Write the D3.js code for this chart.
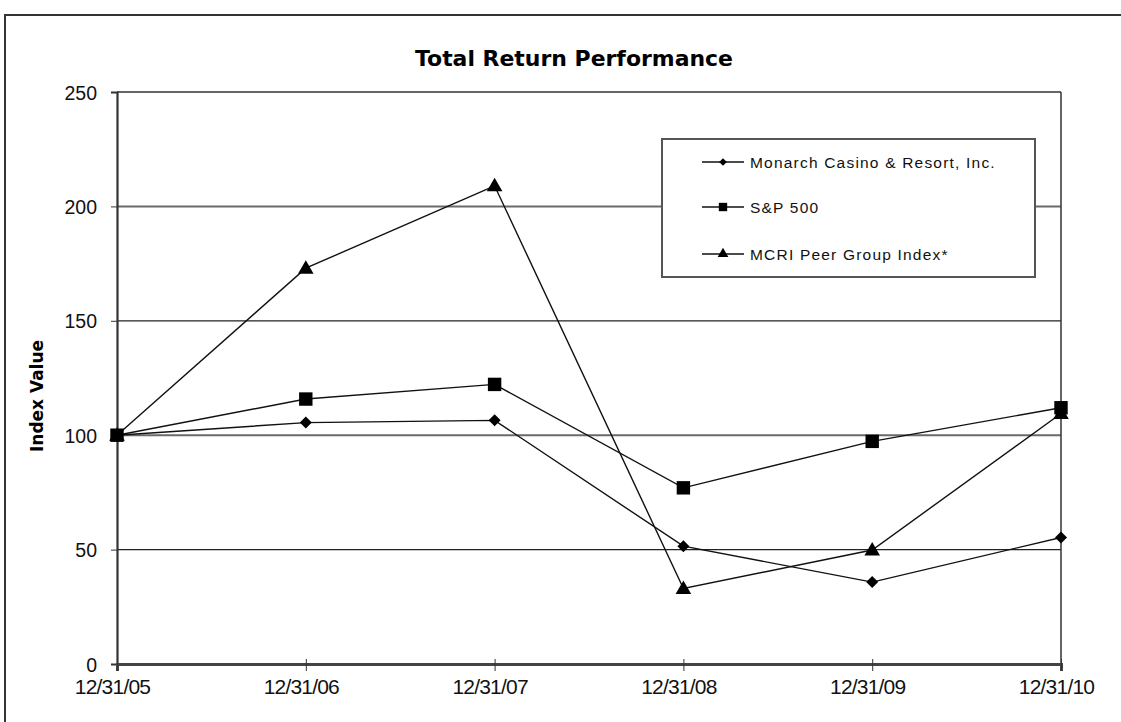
<!DOCTYPE html>
<html><head><meta charset="utf-8">
<script src="https://cdn.jsdelivr.net/npm/d3@7/dist/d3.min.js"></script>
<style>html,body{margin:0;padding:0;background:#fff;overflow:hidden}</style>
</head><body>
<svg id="c" width="1121" height="722"></svg>
<script>
const categories = ["12/31/05","12/31/06","12/31/07","12/31/08","12/31/09","12/31/10"];
const monarch = [100, 105.5, 106.5, 51.5, 35.8, 55.3];
const sp500   = [100, 115.8, 122.2, 77.0, 97.3, 112.0];
const peer    = [100, 173.0, 209.0, 33.0, 49.8, 109.5];
const seriesNames = ["Monarch Casino & Resort, Inc.", "S&P 500", "MCRI Peer Group Index*"];
const yTicks = [0, 50, 100, 150, 200, 250];

const svg = d3.select("#c");
const L = 117, R = 1061, T = 92, B = 664;
const x = d3.scalePoint().domain(categories).range([L, R]);
const y = d3.scaleLinear().domain([0, 250]).range([B, T]);

// outer frame
svg.append("path").attr("d", "M5,1121 L5,15 L1121,15").attr("fill","none").attr("stroke","#333").attr("stroke-width",2);

// title
svg.append("text").attr("x", 415).attr("y", 66)
  .attr("font-family","DejaVu Sans").attr("font-weight","bold").attr("font-size",21)
  .attr("textLength", 318).attr("lengthAdjust","spacingAndGlyphs").text("Total Return Performance");

// gridlines
const grid = svg.append("g");
yTicks.filter(v => v > 0 && v < 250).forEach(v => {
  grid.append("line").attr("x1", L).attr("x2", R).attr("y1", y(v)).attr("y2", y(v))
    .attr("stroke", (v === 100 || v === 200) ? "#6a6a6a" : "#222")
    .attr("stroke-width", (v === 100 || v === 200) ? 2 : 1.2);
});
// top + right border of plot
svg.append("line").attr("x1", L).attr("x2", R).attr("y1", T).attr("y2", T).attr("stroke","#333").attr("stroke-width",1.5);
svg.append("line").attr("x1", R).attr("x2", R).attr("y1", T).attr("y2", B).attr("stroke","#333").attr("stroke-width",1.5);

// axes
const yAxis = d3.axisLeft(y).tickValues(yTicks).tickSize(6).tickPadding(21);
const gy = svg.append("g").attr("transform", `translate(${L},0)`).call(yAxis);
gy.select(".domain").attr("stroke","#333").attr("stroke-width",2.2);
gy.selectAll(".tick line").attr("stroke","#333");
gy.selectAll("text").attr("font-family","Liberation Sans").attr("font-size",19.5).attr("fill","#111")
  .attr("x", -20).attr("dy", "0.36em");

const xAxis = d3.axisBottom(x).tickSize(7).tickPadding(8);
const gx = svg.append("g").attr("transform", `translate(0,${B})`).call(xAxis);
gx.select(".domain").attr("stroke","#444").attr("stroke-width",3);
gx.selectAll(".tick line").attr("stroke","#333").attr("y1", -5);
gx.selectAll("text").attr("font-family","Liberation Sans").attr("font-size",21).attr("fill","#111")
  .attr("letter-spacing",-0.8).attr("y", 30).attr("dy", 0).attr("dx", -5);

// y label
svg.append("text").attr("transform", "translate(43,452) rotate(-90)")
  .attr("font-family","DejaVu Sans").attr("font-weight","bold").attr("font-size",17)
  .attr("textLength", 112).attr("lengthAdjust","spacingAndGlyphs").text("Index Value");

// series
const data = [monarch, sp500, peer];
const symbols = [d3.symbolSquare, d3.symbolSquare, d3.symbolTriangle];
const rot = [45, 0, 0];
const sizes = [72, 180, 105];
const line = d3.line().x((d,i) => x(categories[i])).y(d => y(d));
data.forEach((s, k) => {
  svg.append("path").datum(s).attr("d", line).attr("fill","none").attr("stroke","#111").attr("stroke-width",1.4);
});
data.forEach((s, k) => {
  svg.append("g").selectAll("path").data(s).join("path")
    .attr("transform", (d,i) => `translate(${x(categories[i])},${y(d) + (k===2 ? 1 : 0)}) rotate(${rot[k]})`)
    .attr("d", d3.symbol().type(symbols[k]).size(sizes[k])).attr("fill","#000");
});

// legend
const lg = svg.append("g");
lg.append("rect").attr("x", 662).attr("y", 139).attr("width", 373).attr("height", 138)
  .attr("fill","#fff").attr("stroke","#555").attr("stroke-width",2);
const rows = [162, 207, 254];
const lsizes = [30, 70, 50];
seriesNames.forEach((n, k) => {
  lg.append("line").attr("x1",702).attr("x2",744).attr("y1",rows[k]).attr("y2",rows[k]).attr("stroke","#111").attr("stroke-width",1.4);
  lg.append("path").attr("transform", `translate(723,${rows[k]}) rotate(${rot[k]})`).attr("d", d3.symbol().type(symbols[k]).size(lsizes[k])).attr("fill","#000");
  lg.append("text").attr("x", 750).attr("y", rows[k] + 6).attr("font-family","Liberation Sans").attr("font-size",15.5)
    .attr("letter-spacing",1.2).attr("fill","#111").text(n);
});
</script>
</body></html>
